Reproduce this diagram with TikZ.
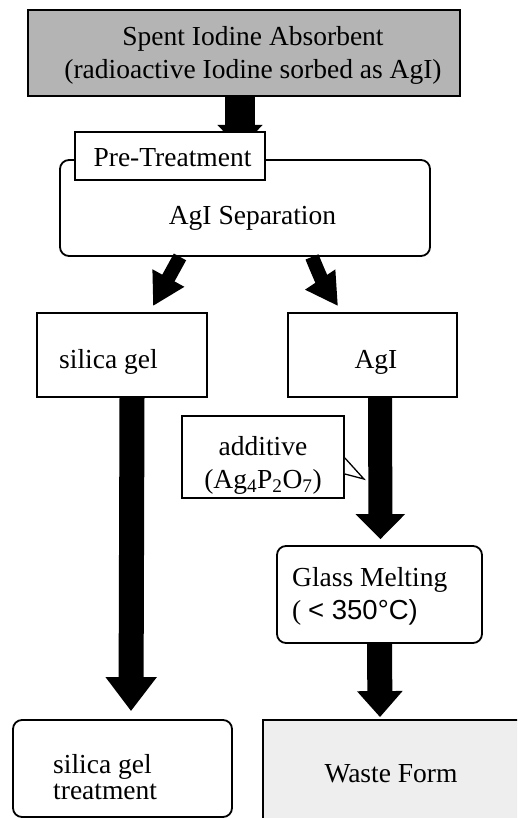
\documentclass[tikz,border=0pt]{standalone}
\usepackage{fontspec}
\setmainfont{Liberation Serif}
\setsansfont{Liberation Sans}
\usetikzlibrary{arrows.meta,calc,positioning}
\definecolor{wfShade}{RGB}{180,180,180}
\definecolor{wfPale}{RGB}{238,238,238}

\begin{document}
\begin{tikzpicture}[x=1pt,y=-1pt,
  every node/.style={inner sep=0pt, font=\fontsize{27.5}{33}\selectfont},
  flowbox/.style={draw, line width=1.8pt, fill=white},
  roundbox/.style={flowbox, rounded corners=9pt},
  fatarrow/.style n args={3}{line width=#1, -{Triangle[length=#2, width=#3]}}
]
  \useasboundingbox (0,0) rectangle (517,818);
  \fill[white] (0,0) rectangle (517,818);
  \clip (0,0) rectangle (517,818);

  % boxes
  \node[flowbox, fill=wfShade, minimum width=432, minimum height=86] (absorb) at (244,53) {};
  \node[align=center] (absorbtxt) at (253,55) {Spent Iodine Absorbent\\(radioactive Iodine sorbed as AgI)};
  \node[roundbox, minimum width=370, minimum height=96] (separation) at (245,208) {};
  \node[anchor=base] (septxt) at (252.5,225) {AgI Separation};

  \coordinate (pretip) at (240,148);
  \draw[fatarrow={30pt}{23pt}{44pt}] ($(absorb.south)+(-4,0)$) -- (pretip);

  \node[flowbox, minimum width=190, minimum height=48] (pretreat) at (170,156) {};
  \node[anchor=base] (pretxt) at (172.5,167) {Pre-Treatment};

  \node[flowbox, minimum width=170, minimum height=84] (silica) at (122,355) {};
  \node[anchor=base] (silicatxt) at (108.5,368) {silica gel};
  \node[flowbox, minimum width=169, minimum height=84] (agi) at (372.5,355) {};
  \node[anchor=base] (agitxt) at (376,368) {AgI};

  \node[flowbox, minimum width=162, minimum height=82] (additive) at (263,457) {};
  \node[align=center] (additivetxt) at (263,465) {additive\\(Ag\textsubscript{4}P\textsubscript{2}O\textsubscript{7})};
  \draw[line width=1.3pt, fill=white] ($(additive.east)+(0,1)$) -- ($(additive.east)+(19,22)$) -- ($(additive.east)+(0,17)$);

  \node[roundbox, minimum width=205, minimum height=97] (glass) at (379.5,594.5) {};
  \node[align=left, anchor=west] (glasstxt) at (292,596) {Glass Melting\\( {\sffamily< 350°C)}};

  \node[roundbox, minimum width=219, minimum height=97] (silicatreat) at (122.5,768.5) {};
  \node[align=left, anchor=west, font=\fontsize{27.5}{26.5}\selectfont] (silicatreattxt) at (53,777) {silica gel\\treatment};
  \node[flowbox, fill=wfPale, minimum width=277, minimum height=120] (waste) at (401.5,780) {};
  \node[anchor=base] (wastetxt) at (391,782) {Waste Form};

  % flow arrows
  \draw[fatarrow={14pt}{32pt}{34pt}] ($(separation.south)+(-65,0)$) -- ($(silica.north)+(31,-6)$);
  \draw[fatarrow={14pt}{32pt}{34pt}] ($(separation.south)+(67,0)$) to[bend right=6] ($(agi.north)+(-34.5,-6)$);
  \draw[fatarrow={25pt}{34pt}{49pt}] ($(silica.south)+(10,0)$) -- ($(silicatreat.north)+(8.5,-8)$);
  \draw[fatarrow={24pt}{25pt}{48pt}] ($(agi.south)+(7.5,0)$) -- ($(glass.north)+(1,-6)$);
  \draw[fatarrow={25pt}{26pt}{44pt}] (glass.south) -- ($(waste.north)+(-21.5,-2)$);
\end{tikzpicture}
\end{document}
